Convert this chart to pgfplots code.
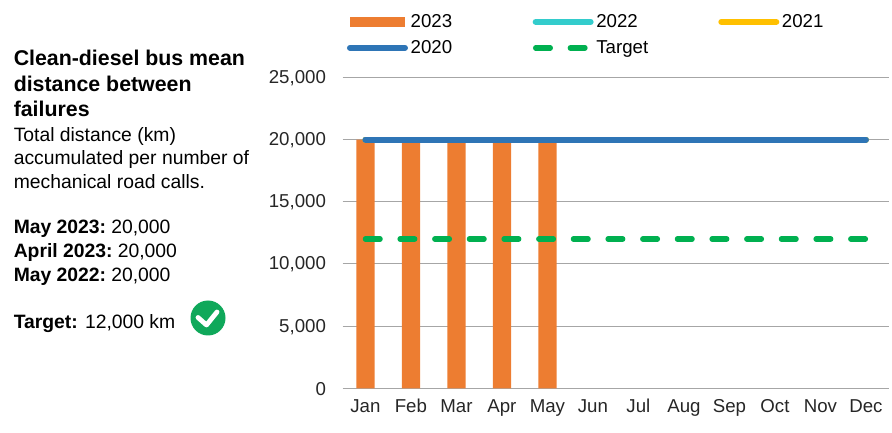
\documentclass[border=0pt]{standalone}
\usepackage{pgfplots}
\pgfplotsset{compat=1.18}
\usepackage{fontspec}
\setmainfont{Liberation Sans}
\definecolor{co}{HTML}{ED7D31}
\definecolor{ct}{HTML}{33CCCC}
\definecolor{cy}{HTML}{FFC000}
\definecolor{cb}{HTML}{2E75B6}
\definecolor{cg}{HTML}{00B050}
\definecolor{gl}{HTML}{A6A6A6}
\definecolor{tk}{HTML}{262626}
\definecolor{ck}{HTML}{0FA85A}
\newcommand{\lt}[1]{\makebox[89.5pt][l]{\rule[-3pt]{0pt}{13pt}#1}}
\pgfplotstableread{
m v
0 20000
1 20000
2 20000
3 20000
4 20000
5 20000
6 20000
7 20000
8 20000
9 20000
10 20000
11 20000
}\allv
\pgfplotstableread{
m v
0 12000
1 12000
2 12000
3 12000
4 12000
5 12000
6 12000
7 12000
8 12000
9 12000
10 12000
11 12000
}\targetv
\pgfplotsset{
 lineimg/.style={legend image code/.code={\draw[##1] (0pt,0pt) -- (41.25pt,0pt);}},
 dashimg/.style={legend image code/.code={\draw[##1] (0pt,0pt) -- (38pt,0pt);\path (41.25pt,0pt);}},
 barimg/.style={legend image code/.code={\fill[co] (0pt,-4pt) rectangle (41.25pt,4pt);}},
}
\begin{document}
\begin{tikzpicture}[x=1pt,y=1pt]
\path[use as bounding box] (0,0) rectangle (669,324);
\begin{axis}[
 at={(257pt,32.8pt)},anchor=south west,
 width=409.5pt,height=233.2pt,scale only axis,
 xmin=-0.5,xmax=11.5,ymin=0,ymax=25000,
 axis line style={draw=none},
 axis x line*=bottom,axis y line*=left,
 major tick length=0pt,
 ytick={0,5000,10000,15000,20000,25000},
 ymajorgrids,grid style={gl,line width=0.75pt},
 xtick={0,...,11},
 xticklabels={Jan,Feb,Mar,Apr,May,Jun,Jul,Aug,Sep,Oct,Nov,Dec},
 scaled y ticks=false,
 /pgf/number format/assume math mode=true,
 /pgf/number format/fixed,
 /pgf/number format/1000 sep={,},
 tick label style={font=\fontsize{14}{16}\selectfont,text=tk},
 yticklabel style={xshift=-9pt,yshift=-0.5pt},
 xticklabel style={text height=10pt,text depth=0pt,yshift=-5pt},
 clip=false,
 legend columns=3,
 legend cell align=left,
 legend style={at={(0.0079,1.203)},anchor=north west,draw=none,fill=none,inner sep=0pt,outer sep=0pt,
   font=\fontsize{14}{16}\selectfont,row sep=8pt,
   nodes={inner xsep=2pt,inner ysep=0pt}},
]
\addplot[ybar,bar width=13.7pt,fill=co,draw=none,bar shift=0pt,barimg] coordinates {(0,20000)(1,20000)(2,20000)(3,20000)(4,20000)};
\addlegendentry{\lt{2023}}
\addplot[ct,line width=4.5pt,line cap=round,lineimg] table[x=m,y=v] {\allv};
\addlegendentry{\lt{2022}}
\addplot[cy,line width=4.5pt,line cap=round,lineimg] table[x=m,y=v] {\allv};
\addlegendentry{\lt{2021}}
\addplot[cb,line width=4.5pt,line cap=round,lineimg] table[x=m,y=v] {\allv};
\addlegendentry{\lt{2020}}
\addplot[cg,line width=4pt,line cap=round,dash pattern=on 11pt off 15pt,dashimg] table[x=m,y=v] {\targetv};
\addlegendentry{\lt{Target}}
\end{axis}
\begin{scope}[shift={(0,324)},x=0.75pt,y=-0.75pt]
\def\T#1#2#3{\node[anchor=base west,inner sep=0pt] at (13.5,#1) {\fontsize{#2}{#2}\selectfont #3};}
\T{66}{16}{\textbf{Clean-diesel bus mean}}
\T{92}{16}{\textbf{distance between}}
\T{116.7}{16}{\textbf{failures}}
\T{141.7}{14.5}{Total distance (km)}
\T{165}{14.5}{accumulated per number of}
\T{188.3}{14.5}{mechanical road calls.}
\T{234}{14.5}{\textbf{May 2023:}\kern-1.5pt{} 20,000}
\T{258}{14.5}{\textbf{April 2023:}\kern-1.5pt{} 20,000}
\T{281.7}{14.5}{\textbf{May 2022:}\kern-1.5pt{} 20,000}
\T{328.3}{14.5}{\textbf{Target:} 12,000 km}
\fill[ck] (208,318) circle (17.5);
\draw[white,line width=3.6pt,line cap=round,line join=round] (198,317.5) -- (206.5,325) -- (217,312);
\end{scope}
\end{tikzpicture}
\end{document}
